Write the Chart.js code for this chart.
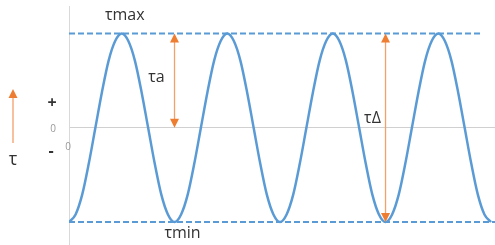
<!DOCTYPE html>
<html>
<head>
<meta charset="utf-8">
<script src="https://cdn.jsdelivr.net/npm/chart.js@4/dist/chart.umd.min.js"></script>
<style>
  html, body { margin: 0; padding: 0; background: #fff; overflow: hidden; }
  #c { display: block; }
</style>
</head>
<body>
<canvas id="c" width="495" height="245"></canvas>
<script>
// positions along the time axis (sixteenths of a period)
const xs = [];
for (let i = 0; i <= 64; i++) xs.push(i / 2);
// stress (max = 1, min = -1), one period repeated four times
const onePeriod = [-1, -0.92, -0.71, -0.38, 0, 0.38, 0.71, 0.92,
                   1, 0.92, 0.71, 0.38, 0, -0.38, -0.71, -0.92];
const tau = [].concat(onePeriod, onePeriod, onePeriod, onePeriod, [-1]);
const tauMax = 1;
const tauMin = -1;
const maxLineEnd = 31.3;
const minLineEnd = 32.3;
const ampAt = 8;     // where the amplitude arrow sits
const rangeAt = 24;  // where the range arrow sits
const labels = { max: 'τmax', min: 'τmin', amp: 'τa', range: 'τΔ', axis: 'τ' };

const BLUE = '#5b9bd5';
const ORANGE = '#ed7d31';
const FONT = '"Open Sans", "Noto Sans", sans-serif';

function arrowHead(ctx, x, y, dir) {
  // dir = -1 points up, 1 points down
  ctx.beginPath();
  ctx.moveTo(x, y);
  ctx.lineTo(x - 4.5, y - dir * 9);
  ctx.lineTo(x + 4.5, y - dir * 9);
  ctx.closePath();
  ctx.fill();
}

function vArrow(ctx, x, y1, y2, both) {
  ctx.strokeStyle = '#f4a06a';
  ctx.fillStyle = ORANGE;
  ctx.lineWidth = 1.3;
  ctx.beginPath();
  ctx.moveTo(x, y1 + 6);
  ctx.lineTo(x, y2 - (both ? 6 : 0));
  ctx.stroke();
  arrowHead(ctx, x, y1, -1);
  if (both) arrowHead(ctx, x, y2, 1);
}

const notes = {
  id: 'notes',
  afterDatasetsDraw(chart) {
    const ctx = chart.ctx;
    const xS = chart.scales.x, yS = chart.scales.y;
    const yMax = yS.getPixelForValue(tauMax);
    const yMin = yS.getPixelForValue(tauMin);
    const y0 = yS.getPixelForValue(0);
    const xa = xS.getPixelForValue(ampAt);
    const xr = xS.getPixelForValue(rangeAt);
    ctx.save();

    vArrow(ctx, xa, yMax, y0, true);
    vArrow(ctx, xr, yMax, yMin, true);
    vArrow(ctx, 13, 89, 143, false);

    ctx.fillStyle = '#333';
    ctx.textAlign = 'center';
    ctx.textBaseline = 'middle';
    ctx.font = '16px ' + FONT;
    ctx.fillText(labels.max, xS.getPixelForValue(4) + 3, yMax - 18);
    ctx.fillText(labels.min, xS.getPixelForValue(8) + 8, yMin + 11);
    ctx.fillText(labels.amp, xa - 18, yMax + 44);
    ctx.fillText(labels.range, xr - 13, y0 - 9);

    ctx.font = '18px ' + FONT;
    ctx.fillText(labels.axis, 13, 160);
    ctx.font = 'bold 16px ' + FONT;
    ctx.fillText('+', 52, 103);
    ctx.fillText('-', 51, 151);

    // zero labels of both axes
    ctx.fillStyle = '#999';
    ctx.font = '10px ' + FONT;
    ctx.fillText('0', xS.left - 16, y0 + 1);
    ctx.fillText('0', xS.getPixelForValue(0) - 1, y0 + 19);
    ctx.restore();
  }
};

new Chart(document.getElementById('c'), {
  type: 'line',
  data: {
    datasets: [
      {
        data: xs.map((x, i) => ({ x: x, y: tau[i] })),
        borderColor: BLUE,
        borderWidth: 2.5,
        pointRadius: 0,
        cubicInterpolationMode: 'monotone',
        order: 0
      },
      {
        data: [{ x: 0, y: tauMax }, { x: maxLineEnd, y: tauMax }],
        borderColor: BLUE,
        borderWidth: 2,
        borderDash: [6, 3],
        pointRadius: 0,
        order: 1
      },
      {
        data: [{ x: 0, y: tauMin }, { x: minLineEnd, y: tauMin }],
        borderColor: BLUE,
        borderWidth: 2,
        borderDash: [6, 3],
        pointRadius: 0,
        order: 1
      }
    ]
  },
  options: {
    responsive: false,
    animation: false,
    layout: { autoPadding: false, padding: { top: 6, right: 0, bottom: 0, left: 0 } },
    plugins: { legend: { display: false }, tooltip: { enabled: false } },
    scales: {
      x: {
        type: 'linear',
        min: 0,
        max: minLineEnd,
        display: false
      },
      y: {
        min: -1.244,
        max: 1.292,
        afterFit(s) { s.width = 69; },
        afterBuildTicks(s) { s.ticks = [{ value: 0 }]; },
        border: { display: true, color: '#d9d9d9', width: 1 },
        grid: { color: '#d0d0d0', drawTicks: false },
        ticks: { display: false }
      }
    }
  },
  plugins: [notes]
});
</script>
</body>
</html>
